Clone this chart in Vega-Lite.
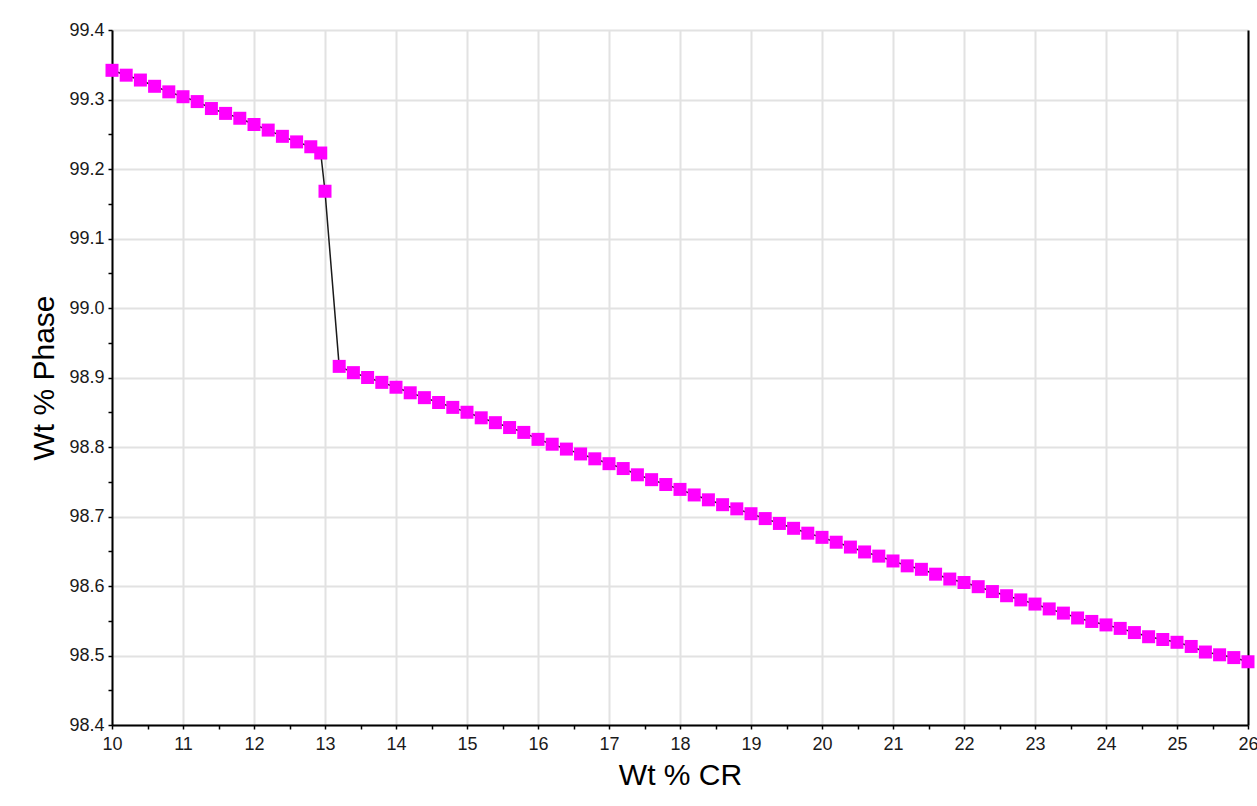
{
  "$schema": "https://vega.github.io/schema/vega-lite/v6.json",
  "autosize": {"type": "none"},
  "width": 1136,
  "height": 695,
  "padding": {"left": 112, "top": 30, "right": 9, "bottom": 81},
  "background": "white",
  "config": {
    "font": "Liberation Sans",
    "view": {"stroke": null},
    "axis": {
      "domainColor": "#000000",
      "domainWidth": 2,
      "tickColor": "#000000",
      "tickWidth": 1.5,
      "tickSize": 4,
      "labelFont": "Liberation Sans",
      "labelFontSize": 18,
      "labelColor": "#1a1a1a",
      "gridColor": "#e2e2e2",
      "gridWidth": 2,
      "titleFont": "Liberation Sans",
      "titleFontSize": 30,
      "titleFontWeight": "normal",
      "titleColor": "#000000"
    }
  },
  "data": {
    "values": [
      {"cr": 10.0, "phase": 99.342},
      {"cr": 10.2, "phase": 99.335},
      {"cr": 10.4, "phase": 99.328},
      {"cr": 10.6, "phase": 99.319},
      {"cr": 10.8, "phase": 99.311},
      {"cr": 11.0, "phase": 99.304},
      {"cr": 11.2, "phase": 99.297},
      {"cr": 11.4, "phase": 99.287},
      {"cr": 11.6, "phase": 99.280},
      {"cr": 11.8, "phase": 99.273},
      {"cr": 12.0, "phase": 99.264},
      {"cr": 12.2, "phase": 99.256},
      {"cr": 12.4, "phase": 99.247},
      {"cr": 12.6, "phase": 99.239},
      {"cr": 12.8, "phase": 99.232},
      {"cr": 12.94, "phase": 99.223},
      {"cr": 13.0, "phase": 99.168},
      {"cr": 13.2, "phase": 98.916},
      {"cr": 13.4, "phase": 98.907},
      {"cr": 13.6, "phase": 98.900},
      {"cr": 13.8, "phase": 98.893},
      {"cr": 14.0, "phase": 98.886},
      {"cr": 14.2, "phase": 98.878},
      {"cr": 14.4, "phase": 98.871},
      {"cr": 14.6, "phase": 98.864},
      {"cr": 14.8, "phase": 98.857},
      {"cr": 15.0, "phase": 98.850},
      {"cr": 15.2, "phase": 98.842},
      {"cr": 15.4, "phase": 98.835},
      {"cr": 15.6, "phase": 98.828},
      {"cr": 15.8, "phase": 98.821},
      {"cr": 16.0, "phase": 98.811},
      {"cr": 16.2, "phase": 98.804},
      {"cr": 16.4, "phase": 98.797},
      {"cr": 16.6, "phase": 98.790},
      {"cr": 16.8, "phase": 98.783},
      {"cr": 17.0, "phase": 98.776},
      {"cr": 17.2, "phase": 98.769},
      {"cr": 17.4, "phase": 98.760},
      {"cr": 17.6, "phase": 98.753},
      {"cr": 17.8, "phase": 98.746},
      {"cr": 18.0, "phase": 98.739},
      {"cr": 18.2, "phase": 98.731},
      {"cr": 18.4, "phase": 98.724},
      {"cr": 18.6, "phase": 98.717},
      {"cr": 18.8, "phase": 98.711},
      {"cr": 19.0, "phase": 98.704},
      {"cr": 19.2, "phase": 98.697},
      {"cr": 19.4, "phase": 98.690},
      {"cr": 19.6, "phase": 98.683},
      {"cr": 19.8, "phase": 98.676},
      {"cr": 20.0, "phase": 98.670},
      {"cr": 20.2, "phase": 98.663},
      {"cr": 20.4, "phase": 98.656},
      {"cr": 20.6, "phase": 98.649},
      {"cr": 20.8, "phase": 98.643},
      {"cr": 21.0, "phase": 98.636},
      {"cr": 21.2, "phase": 98.629},
      {"cr": 21.4, "phase": 98.624},
      {"cr": 21.6, "phase": 98.617},
      {"cr": 21.8, "phase": 98.610},
      {"cr": 22.0, "phase": 98.605},
      {"cr": 22.2, "phase": 98.599},
      {"cr": 22.4, "phase": 98.592},
      {"cr": 22.6, "phase": 98.586},
      {"cr": 22.8, "phase": 98.580},
      {"cr": 23.0, "phase": 98.574},
      {"cr": 23.2, "phase": 98.567},
      {"cr": 23.4, "phase": 98.561},
      {"cr": 23.6, "phase": 98.554},
      {"cr": 23.8, "phase": 98.549},
      {"cr": 24.0, "phase": 98.544},
      {"cr": 24.2, "phase": 98.539},
      {"cr": 24.4, "phase": 98.533},
      {"cr": 24.6, "phase": 98.527},
      {"cr": 24.8, "phase": 98.523},
      {"cr": 25.0, "phase": 98.519},
      {"cr": 25.2, "phase": 98.513},
      {"cr": 25.4, "phase": 98.505},
      {"cr": 25.6, "phase": 98.501},
      {"cr": 25.8, "phase": 98.497},
      {"cr": 26.0, "phase": 98.491}
    ]
  },
  "encoding": {
    "x": {
      "field": "cr",
      "type": "quantitative",
      "title": "Wt % CR",
      "scale": {"domain": [10, 26], "nice": false, "zero": false},
      "axis": {
        "values": [10, 10.5, 11, 11.5, 12, 12.5, 13, 13.5, 14, 14.5, 15, 15.5, 16, 16.5, 17, 17.5, 18, 18.5, 19, 19.5, 20, 20.5, 21, 21.5, 22, 22.5, 23, 23.5, 24, 24.5, 25, 25.5, 26],
        "labelExpr": "abs(datum.value - round(datum.value)) < 0.001 ? format(datum.value, 'd') : ''",
        "gridOpacity": {"condition": {"test": "abs(datum.value - round(datum.value)) < 0.001", "value": 1}, "value": 0},
        "grid": true,
        "labelPadding": 6,
        "labelFlush": false,
        "labelOverlap": false,
        "titlePadding": 7
      }
    }
  },
  "layer": [
    {
      "mark": {"type": "line", "color": "#1a1a1a", "strokeWidth": 1.5},
      "encoding": {
        "y": {
          "field": "phase",
          "type": "quantitative",
          "title": "Wt % Phase",
          "scale": {"domain": [98.4, 99.4], "nice": false, "zero": false},
          "axis": {
            "values": [98.4, 98.45, 98.5, 98.55, 98.6, 98.65, 98.7, 98.75, 98.8, 98.85, 98.9, 98.95, 99.0, 99.05, 99.1, 99.15, 99.2, 99.25, 99.3, 99.35, 99.4],
            "labelExpr": "abs(datum.value * 10 - round(datum.value * 10)) < 0.001 ? format(datum.value, '.1f') : ''",
            "gridOpacity": {"condition": {"test": "abs(datum.value * 10 - round(datum.value * 10)) < 0.001", "value": 1}, "value": 0},
            "grid": true,
            "labelPadding": 4,
            "labelFlush": false,
            "labelOverlap": false,
            "titlePadding": 9
          }
        }
      }
    },
    {
      "mark": {"type": "point", "shape": "square", "filled": true, "color": "#ff00ff", "opacity": 1, "size": 169},
      "encoding": {
        "y": {
          "field": "phase",
          "type": "quantitative",
          "scale": {"domain": [98.4, 99.4], "nice": false, "zero": false},
          "axis": {"orient": "right", "labels": false, "ticks": false, "grid": false, "title": null, "domain": true, "domainColor": "#000000", "domainWidth": 2}
        }
      }
    }
  ],
  "resolve": {"axis": {"y": "independent"}}
}
